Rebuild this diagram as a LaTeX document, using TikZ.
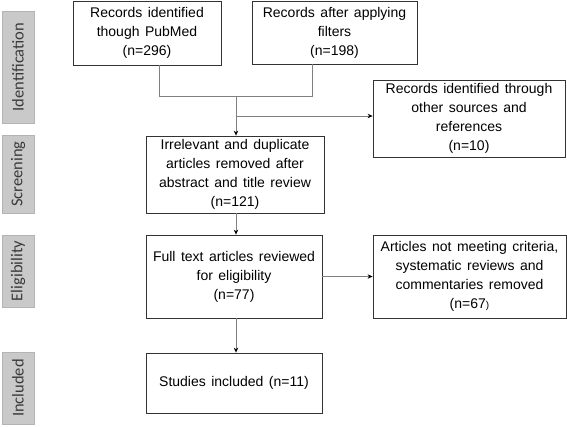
\documentclass[tikz,border=0pt]{standalone}
\usepackage{fontspec}
\setmainfont{Liberation Sans}
\newfontfamily\phasefont{Carlito}
\usetikzlibrary{arrows.meta}
\definecolor{phasefill}{HTML}{C9C9C9}
\definecolor{phaseedge}{HTML}{B4B4B4}
\definecolor{phasetext}{HTML}{3A3A3A}
\newcommand\boxfont{\fontsize{14}{19}\selectfont\spaceskip=5.5pt\relax}
\tikzset{
  box/.style={draw=black!80, line width=0.8pt, align=center, inner sep=0pt,
    font=\boxfont},
  phase/.style={fill=phasefill, draw=phaseedge, rotate=90, inner sep=0pt,
    text=phasetext, font=\phasefont\fontsize{16.5}{16.5}\selectfont},
  link/.style={draw=black!50, line width=0.8pt},
  arr/.style={link, -{Stealth[length=5pt,width=4.5pt,color=black]}}
}

\begin{document}
\begin{tikzpicture}[x=1pt,y=-1pt]
\useasboundingbox (0,0) rectangle (567,426);
% phases
\node[phase, minimum width=112, minimum height=32] (pid) at (18,67) {Identification};
\node[phase, minimum width=78, minimum height=32] (psc) at (18,174) {Screening};
\node[phase, minimum width=72, minimum height=32] (pel) at (18,271) {Eligibility};
\node[phase, minimum width=72, minimum height=32] (pin) at (18,388) {Included};
% boxes
\node[box, minimum width=148, minimum height=64] (pubmed) at (147,33) {Records identified\\though PubMed\\(n=296)};
\node[box, minimum width=165, minimum height=63] (filter) at (334.5,32.5) {Records after applying\\filters\\(n=198)};
\node[box, minimum width=192, minimum height=77] (other) at (469,118.5) {Records identified through\\other sources and\\references\\(n=10)};
\node[box, minimum width=178, minimum height=77] (screen) at (235,174.5) {Irrelevant and duplicate\\articles removed after\\abstract and title review\\(n=121)};
\node[box, minimum width=176, minimum height=83] (full) at (234,276.5) {Full text articles reviewed\\for eligibility\\(n=77)};
\node[box, minimum width=193, minimum height=83] (excl) at (469.5,276.5) {Articles not meeting criteria,\\systematic reviews and\\commentaries removed\\(n=67{\fontsize{10}{10}\selectfont )}};
\node[box, minimum width=176, minimum height=60] (incl) at (234,383) {Studies included (n=11)};
% connectors
\coordinate (ja) at (159,96);
\coordinate (jb) at (312,96);
\coordinate (jc) at (236,96);
\coordinate (jd) at (236,116);
\draw[link] (pubmed.south -| ja) -- (ja) -- (jb) -- (filter.south -| jb);
\draw[arr] (jc) -- (screen.north -| jc);
\draw[arr] (jd) -- (jd -| other.west);
\draw[arr] (screen.south -| jc) -- (full.north -| jc);
\draw[arr] (full.east) -- (excl.west |- full.east);
\draw[arr] (full.south -| jc) -- (incl.north -| jc);
\end{tikzpicture}
\end{document}
